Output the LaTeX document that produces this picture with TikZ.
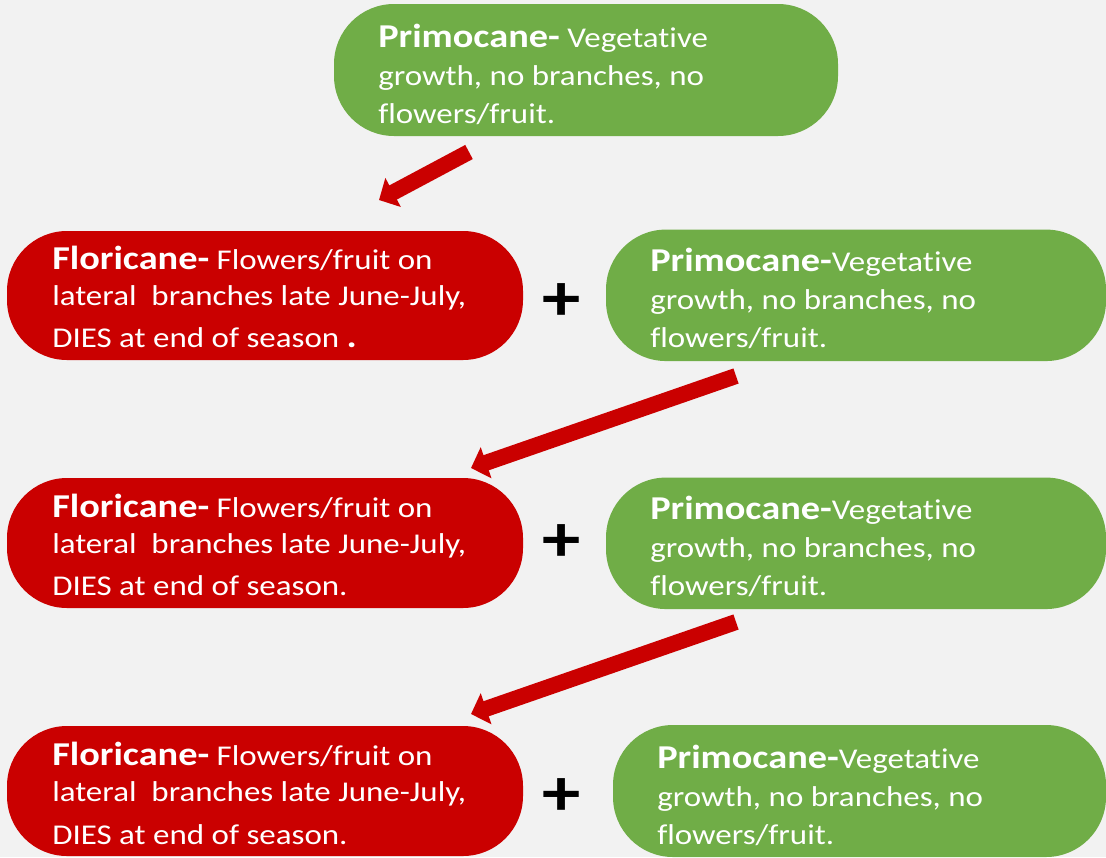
\documentclass[tikz,border=0pt]{standalone}
\usepackage{fontspec}
\setmainfont{Carlito}[FakeStretch=1.15, Ligatures={NoCommon}]
\usetikzlibrary{arrows.meta}
\definecolor{bgc}{RGB}{242,242,242}
\definecolor{gfill}{RGB}{112,173,71}
\definecolor{rfill}{RGB}{202,0,0}
\newcommand{\regf}{\fontsize{21.5}{25}\selectfont}
\newcommand{\boldf}{\fontsize{25}{28}\selectfont\bfseries}
\newcommand{\mytline}[4]{\node[txt] (#1) at (#2,#3) {#4};}
\tikzset{
  canebox/.style={rectangle, rounded corners=45pt, draw=none, inner sep=0pt},
  gbox/.style={canebox, fill=gfill},
  rbox/.style={canebox, fill=rfill},
  txt/.style={anchor=base west, inner sep=0pt, text=white, font=\regf},
  plussign/.style={inner sep=0pt, font=\fontsize{50}{50}\selectfont\bfseries, text=black},
  bigarrow/.style={draw=rfill, line width=12pt, -{Triangle[length=12pt,width=24pt]}}
}
\begin{document}
\begin{tikzpicture}[x=0.75pt,y=-0.75pt]
\fill[bgc] (0,0) rectangle (1106,857);
\useasboundingbox (0,0) rectangle (1106,857);
% boxes
\node[gbox, minimum width=378pt, minimum height=99pt] (top) at (586,70) {};
\node[rbox, minimum width=387pt, minimum height=96.75pt] (r1) at (265,295.5) {};
\node[gbox, minimum width=375pt, minimum height=98.6pt] (g1) at (856,295.3) {};
\node[rbox, minimum width=387pt, minimum height=97.5pt] (r2) at (265,543) {};
\node[gbox, minimum width=375pt, minimum height=98.6pt] (g2) at (856,543.3) {};
\node[rbox, minimum width=387pt, minimum height=97.5pt] (r3) at (265,791) {};
\node[gbox, minimum width=369.75pt, minimum height=99pt] (g3) at (859.5,791) {};
% top text
\mytline{ta}{378}{47}{{\boldf Primocane-} Vegetative}
\mytline{tb}{378}{85}{growth, no branches, no}
\mytline{tc}{378}{123}{flowers/fruit.}
% row 1
\mytline{r1a}{52}{269}{{\boldf Floricane-} Flowers/fruit on}
\mytline{r1b}{52}{305}{lateral\ \ branches late June-July,}
\mytline{r1c}{52}{347}{DIES at end of season {\boldf .}}
\mytline{g1a}{650}{271}{{\boldf Primocane-}Vegetative}
\mytline{g1b}{650}{309}{growth, no branches, no}
\mytline{g1c}{650}{347}{flowers/fruit.}
% row 2
\mytline{r2a}{52}{517}{{\boldf Floricane-} Flowers/fruit on}
\mytline{r2b}{52}{553}{lateral\ \ branches late June-July,}
\mytline{r2c}{52}{595}{DIES at end of season.}
\mytline{g2a}{650}{519}{{\boldf Primocane-}Vegetative}
\mytline{g2b}{650}{557}{growth, no branches, no}
\mytline{g2c}{650}{595}{flowers/fruit.}
% row 3
\mytline{r3a}{52}{765}{{\boldf Floricane-} Flowers/fruit on}
\mytline{r3b}{52}{801}{lateral\ \ branches late June-July,}
\mytline{r3c}{52}{844}{DIES at end of season.}
\mytline{g3a}{657}{768}{{\boldf Primocane-}Vegetative}
\mytline{g3b}{657}{806}{growth, no branches, no}
\mytline{g3c}{657}{844}{flowers/fruit.}
% plus signs
\node[plussign] (p1) at (562,302) {+};
\node[plussign] (p2) at (562,543) {+};
\node[plussign] (p3) at (562,797) {+};
% arrows
\coordinate (a1s) at (469,152);
\coordinate (a1e) at (379,200);
\coordinate (a2s) at (736,376);
\coordinate (a2e) at (471,468);
\coordinate (a3s) at (736,622);
\coordinate (a3e) at (471,714);
\draw[bigarrow] (a1s) -- (a1e);
\draw[bigarrow] (a2s) -- (a2e);
\draw[bigarrow] (a3s) -- (a3e);
\end{tikzpicture}
\end{document}
